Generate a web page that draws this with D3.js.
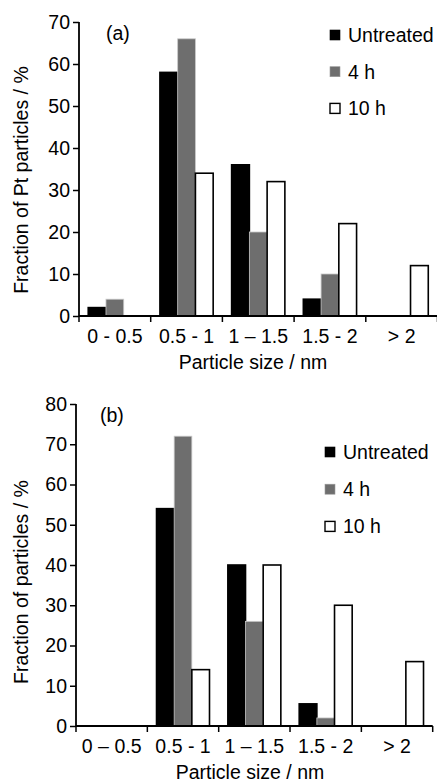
<!DOCTYPE html>
<html>
<head>
<meta charset="utf-8">
<script src="https://cdn.jsdelivr.net/npm/d3@7"></script>
<style>
  body { margin: 0; background: #fff; }
  text { font-family: "Liberation Sans", Arial, sans-serif; fill: #000; }
</style>
</head>
<body>
<script>
// data
var seriesNames = ["Untreated", "4 h", "10 h"];
var seriesColors = ["#000000", "#6e6e6e", "#ffffff"];

var categoriesA = ["0 - 0.5", "0.5 - 1", "1 \u2013 1.5", "1.5 - 2", "> 2"];
var untreatedA = [2, 58, 36, 4, 0];
var fourHoursA = [4, 66, 20, 10, 0];
var tenHoursA = [0, 34, 32, 22, 12];
var yTicksA = [0, 10, 20, 30, 40, 50, 60, 70];

var categoriesB = ["0 \u2013 0.5", "0.5 - 1", "1 \u2013 1.5", "1.5 - 2", "> 2"];
var untreatedB = [0, 54, 40, 5.5, 0];
var fourHoursB = [0, 72, 26, 2, 0];
var tenHoursB = [0, 14, 40, 30, 16];
var yTicksB = [0, 10, 20, 30, 40, 50, 60, 70, 80];

var W = 437, H = 783;
var fontSize = 19.5;

var svg = d3.select("body")
	.append("svg")
	.attr("width", W)
	.attr("height", H);

function drawPanel(p) {
	var g = svg.append("g");

	var x = d3.scaleBand()
		.domain(p.categories)
		.range([p.left, p.right])
		.paddingInner(0)
		.paddingOuter(0);

	var inner = d3.scaleBand()
		.domain(seriesNames)
		.range([0, x.bandwidth()])
		.paddingOuter(0.52)
		.paddingInner(0);

	var y = d3.scaleLinear()
		.domain([0, p.yMax])
		.range([p.bottom, p.top]);

	var series = [p.untreated, p.fourHours, p.tenHours];

	// bars
	series.forEach(function(vals, s) {
		var pts = vals.map(function(v, i) { return {cat: p.categories[i], v: v}; })
			.filter(function(d) { return d.v > 0; });
		g.selectAll(null)
			.data(pts)
			.enter()
			.append("rect")
			.attr("x", function(d) { return x(d.cat) + inner(seriesNames[s]); })
			.attr("y", function(d) { return y(d.v); })
			.attr("width", inner.bandwidth())
			.attr("height", function(d) { return y(0) - y(d.v); })
			.style("fill", seriesColors[s])
			.style("stroke", s === 1 ? "#c8c8c8" : "#000")
			.style("stroke-width", s === 1 ? 0.8 : 1.6);
	});

	// y axis
	var yAxis = d3.axisLeft(y)
		.tickValues(p.yTicks)
		.tickSize(6)
		.tickPadding(3);
	var ya = g.append("g")
		.attr("transform", "translate(" + p.left + ",0)")
		.call(yAxis);
	ya.select(".domain").attr("stroke-width", 1.8).attr("d", "M0," + p.bottom + "V" + p.top);
	ya.selectAll(".tick line").attr("stroke-width", 1.5);
	ya.selectAll(".tick text")
		.style("font-size", fontSize + "px")
		.style("font-family", "Liberation Sans, Arial, sans-serif");

	// x axis: ticks at band boundaries
	var xAxis = d3.axisBottom(x)
		.tickSize(0)
		.tickPadding(13);
	var xa = g.append("g")
		.attr("transform", "translate(0," + p.bottom + ")")
		.call(xAxis);
	xa.select(".domain").attr("stroke-width", 1.8).attr("d", "M" + p.left + ",0H" + p.right);
	xa.selectAll(".tick text")
		.style("font-size", fontSize + "px")
		.style("font-family", "Liberation Sans, Arial, sans-serif");
	var bounds = p.categories.map(function(c) { return x(c); }).concat([p.right]);
	xa.selectAll(".bound")
		.data(bounds)
		.enter()
		.append("line")
		.attr("x1", function(d) { return d; })
		.attr("x2", function(d) { return d; })
		.attr("y1", 0)
		.attr("y2", 6)
		.attr("stroke", "#000")
		.attr("stroke-width", 1.5);

	// titles
	g.append("text")
		.attr("x", p.xTitleX)
		.attr("y", p.xTitleY)
		.attr("text-anchor", "middle")
		.style("font-size", fontSize + "px")
		.text("Particle size / nm");

	g.append("text")
		.attr("transform", "translate(28," + p.yTitleC + ") rotate(-90)")
		.attr("text-anchor", "middle")
		.style("font-size", fontSize + "px")
		.text(p.yTitle);

	g.append("text")
		.attr("x", p.labelX)
		.attr("y", p.labelY)
		.style("font-size", fontSize + "px")
		.text(p.label);

	// legend
	seriesNames.forEach(function(name, s) {
		var ly = p.legendY + s * p.legendStep;
		g.append("rect")
			.attr("x", p.legendX)
			.attr("y", ly - 5)
			.attr("width", 10)
			.attr("height", 10)
			.style("fill", seriesColors[s])
			.style("stroke", s === 1 ? "#999" : "#000")
			.style("stroke-width", s === 2 ? 1.4 : 0.6);
		g.append("text")
			.attr("x", p.legendX + 18)
			.attr("y", ly + 7)
			.style("font-size", fontSize + "px")
			.text(name);
	});
}

drawPanel({
	categories: categoriesA,
	untreated: untreatedA, fourHours: fourHoursA, tenHours: tenHoursA,
	yTicks: yTicksA, yMax: 70,
	left: 79, right: 437.5, top: 22, bottom: 316,
	xTitleX: 253, xTitleY: 369, yTitleC: 180, yTitle: "Fraction of Pt particles / %",
	label: "(a)", labelX: 106, labelY: 40,
	legendX: 330, legendY: 35, legendStep: 36.7
});

drawPanel({
	categories: categoriesB,
	untreated: untreatedB, fourHours: fourHoursB, tenHours: tenHoursB,
	yTicks: yTicksB, yMax: 80,
	left: 76, right: 432.7, top: 404, bottom: 726,
	xTitleX: 250, xTitleY: 779, yTitleC: 582, yTitle: "Fraction of particles / %",
	label: "(b)", labelX: 100, labelY: 422,
	legendX: 325, legendY: 452, legendStep: 37.2
});
</script>
</body>
</html>
